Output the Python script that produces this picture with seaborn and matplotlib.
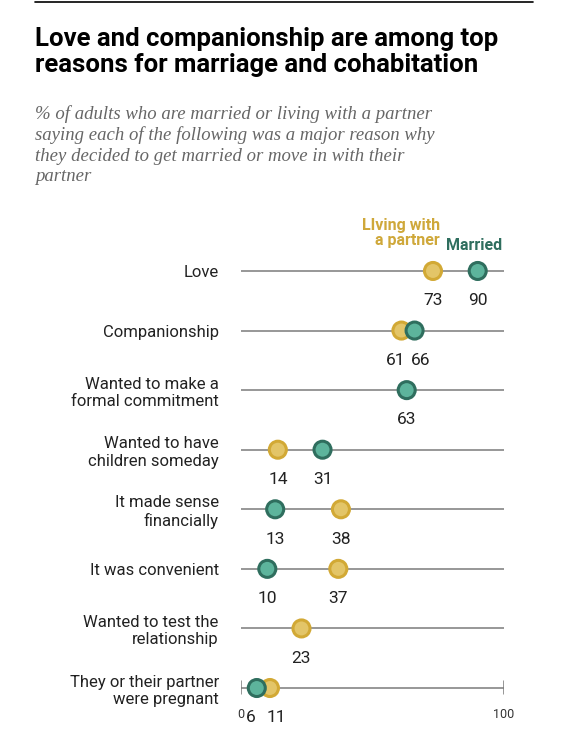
import numpy as np
import pandas as pd
import matplotlib
matplotlib.use("Agg")
import matplotlib.pyplot as plt
import seaborn as sns

reasons = ["Love", "Companionship", "Wanted to make a\nformal commitment",
           "Wanted to have\nchildren someday", "It made sense\nfinancially",
           "It was convenient", "Wanted to test the\nrelationship",
           "They or their partner\nwere pregnant"]
married = [90, 66, 63, 31, 13, 10, np.nan, 6]
living = [73, 61, np.nan, 14, 38, 37, 23, 11]

rows = []
for i, r in enumerate(reasons):
    if not np.isnan(living[i]):
        rows.append({"row": i, "value": living[i], "group": "Living with a partner"})
    if not np.isnan(married[i]):
        rows.append({"row": i, "value": married[i], "group": "Married"})
df = pd.DataFrame(rows)

sns.set_style("white")
plt.rcParams["font.family"] = ["Roboto", "DejaVu Sans"]

gold_fill, gold_edge = "#E3C568", "#D2A935"
green_fill, green_edge = "#5DB49C", "#2F6E5E"

fig = plt.figure(figsize=(5.68, 7.5), dpi=100)
ax = fig.add_axes([241/568, 1-705/750, (504-241)/568, (705-250)/750])

for i in range(len(reasons)):
    ax.plot([0, 100], [i, i], color="#7a7a7a", lw=1.1, zorder=1)
ax.plot([0, 0], [6.88, 7.1], color="#7a7a7a", lw=1.1)
ax.plot([100, 100], [6.88, 7.1], color="#7a7a7a", lw=1.1)

sns.scatterplot(data=df, x="value", y="row", hue="group",
                palette={"Living with a partner": gold_fill, "Married": green_fill},
                s=150, linewidth=2.2, legend=False, ax=ax, zorder=3)
coll = ax.collections[-1]
coll.set_edgecolor([gold_edge if g == "Living with a partner" else green_edge for g in df["group"]])

# value labels, pushed apart when two points sit close together
for i in range(len(reasons)):
    vals = [v for v in (living[i], married[i]) if not np.isnan(v)]
    vals.sort()
    pos = list(vals)
    if len(vals) == 2 and vals[1] - vals[0] < 9:
        mid = (vals[0] + vals[1]) / 2
        pos = [mid - 4.8, mid + 4.8]
    for v, p in zip(vals, pos):
        ax.text(p, i + 0.5, f"{int(v)}", ha="center", va="center",
                fontsize=12.5, color="#222222")

ax.set_xlim(0, 100)
ax.set_ylim(7.285, -0.352)
ax.set_yticks(range(len(reasons)))
ax.set_yticklabels(reasons, fontsize=12, color="#222222", ha="right")
ax.tick_params(axis="y", length=0, pad=16)
ax.set_xticks([])
ax.set_xlabel("")
ax.set_ylabel("")
for s in ax.spines.values():
    s.set_visible(False)
ax.text(0, 7.45, "0", ha="center", va="center", fontsize=9, color="#333333")
ax.text(100, 7.45, "100", ha="center", va="center", fontsize=9, color="#333333")

fig.text(440/568, 1-233/750, "LIving with\na partner", ha="right", va="center",
         fontsize=11.5, fontweight="bold", color="#CFA83A", linespacing=1.05)
fig.text(446/568, 1-245/750, "Married", ha="left", va="center",
         fontsize=11.5, fontweight="bold", color="#2F6E5E")

fig.add_artist(plt.Line2D([35/568, 533/568], [1-2/750, 1-2/750], color="black", lw=1.2))
fig.text(35/568, 1-52/750, "Love and companionship are among top\nreasons for marriage and cohabitation",
         ha="left", va="center", fontsize=18.5, fontweight="bold", color="black", linespacing=1.12)
fig.text(35/568, 1-145/750,
         "% of adults who are married or living with a partner\n"
         "saying each of the following was a major reason why\n"
         "they decided to get married or move in with their\npartner",
         ha="left", va="center", fontsize=13.5, style="italic", color="#666666",
         family="Liberation Serif", linespacing=1.25)

fig.savefig("out.png", dpi=100)
